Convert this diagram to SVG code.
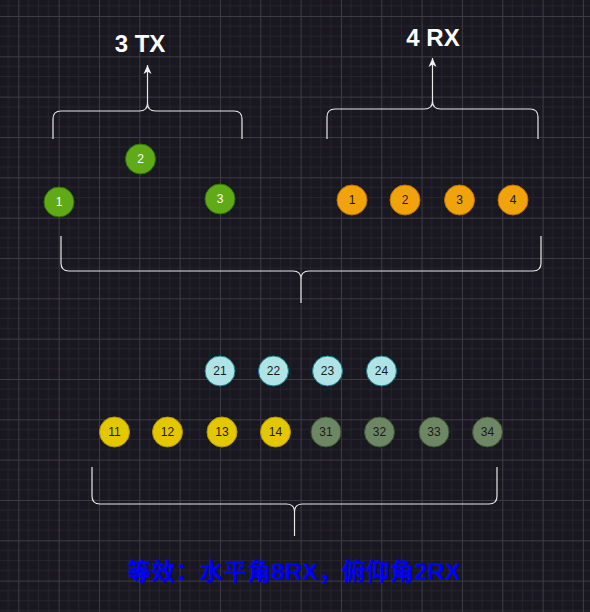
<svg xmlns="http://www.w3.org/2000/svg" width="590" height="612" viewBox="0 0 590 612">
<defs>
<pattern id="grid" patternUnits="userSpaceOnUse" x="18.3" y="16" width="40.33" height="40.33">
<path d="M10.08 0V40.33M20.17 0V40.33M30.25 0V40.33M0 10.08H40.33M0 20.17H40.33M0 30.25H40.33" stroke="#26232d" stroke-width="1" fill="none"/>
<path d="M0.5 0V40.33M0 0.5H40.33" stroke="#3e3b45" stroke-width="1" fill="none"/>
</pattern>
<marker id="arr" markerWidth="10" markerHeight="10" refX="9" refY="5" orient="auto" markerUnits="userSpaceOnUse">
<path d="M0 1 L9 5 L0 9 L2.5 5 Z" fill="#f0f0f0"/>
</marker>
<style>
.tx{fill:#60a917;stroke:#2d7600;stroke-width:1}
.rx{fill:#f0a30a;stroke:#bd7000;stroke-width:1}
.lb{fill:#b0e3e6;stroke:#0e8088;stroke-width:1}
.yl{fill:#e3c800;stroke:#b09500;stroke-width:1}
.ol{fill:#6d8764;stroke:#3a5431;stroke-width:1}
.n{font-family:"Liberation Sans",Arial,sans-serif;font-size:12px;text-anchor:middle;dominant-baseline:central}
.w{fill:#ffffff}
.k{fill:#1a1a1a}
.br{fill:none;stroke:#e8e8e8;stroke-width:1.2}
.title{font-family:"Liberation Sans",Arial,sans-serif;font-size:24px;font-weight:bold;fill:#ffffff;text-anchor:middle}
</style>
</defs>
<rect width="590" height="612" fill="#19171f"/>
<rect width="590" height="612" fill="url(#grid)"/>

<g id="connectors">
<path class="br" d="M53 139V119Q53 111 61 111H139.5Q147.5 111 147.5 103M242 139V119Q242 111 234 111H155.5Q147.5 111 147.5 103V88"/>
<line class="br" x1="147.5" y1="88" x2="147.5" y2="65" marker-end="url(#arr)"/>
<path class="br" d="M327 139V117Q327 109 335 109H424.5Q432.5 109 432.5 101M538 139V117Q538 109 530 109H440.5Q432.5 109 432.5 101V86"/>
<line class="br" x1="432.5" y1="86" x2="432.5" y2="58" marker-end="url(#arr)"/>
<path class="br" d="M61 236V263Q61 271 69 271H293Q301 271 301 279M541 236V263Q541 271 533 271H309Q301 271 301 279V303"/>
<path class="br" d="M92 467V496Q92 504 100 504H286.5Q294.5 504 294.5 512M497 467V496Q497 504 489 504H302.5Q294.5 504 294.5 512V536"/>
</g>

<g id="label-3tx"><text class="title" x="140" y="52">3 TX</text></g>
<g id="label-4rx"><text class="title" x="433" y="45.5">4 RX</text></g>

<g id="tx1"><circle class="tx" cx="59" cy="202" r="15"/><text class="n w" x="59" y="202">1</text></g>
<g id="tx2"><circle class="tx" cx="140.5" cy="159" r="15"/><text class="n w" x="140.5" y="159">2</text></g>
<g id="tx3"><circle class="tx" cx="220" cy="199" r="15"/><text class="n w" x="220" y="199">3</text></g>

<g id="rx1"><circle class="rx" cx="352" cy="200" r="15"/><text class="n k" x="352" y="200">1</text></g>
<g id="rx2"><circle class="rx" cx="405" cy="200" r="15"/><text class="n k" x="405" y="200">2</text></g>
<g id="rx3"><circle class="rx" cx="459.5" cy="200" r="15"/><text class="n k" x="459.5" y="200">3</text></g>
<g id="rx4"><circle class="rx" cx="513" cy="200" r="15"/><text class="n k" x="513" y="200">4</text></g>

<g id="v21"><circle class="lb" cx="220" cy="371" r="15"/><text class="n k" x="220" y="371">21</text></g>
<g id="v22"><circle class="lb" cx="273.5" cy="371" r="15"/><text class="n k" x="273.5" y="371">22</text></g>
<g id="v23"><circle class="lb" cx="327.5" cy="371" r="15"/><text class="n k" x="327.5" y="371">23</text></g>
<g id="v24"><circle class="lb" cx="381.5" cy="371" r="15"/><text class="n k" x="381.5" y="371">24</text></g>

<g id="v11"><circle class="yl" cx="114.5" cy="432" r="15"/><text class="n k" x="114.5" y="432">11</text></g>
<g id="v12"><circle class="yl" cx="167.5" cy="432" r="15"/><text class="n k" x="167.5" y="432">12</text></g>
<g id="v13"><circle class="yl" cx="222" cy="432" r="15"/><text class="n k" x="222" y="432">13</text></g>
<g id="v14"><circle class="yl" cx="275.5" cy="432" r="15"/><text class="n k" x="275.5" y="432">14</text></g>
<g id="v31"><circle class="ol" cx="326" cy="432" r="15"/><text class="n k" x="326" y="432">31</text></g>
<g id="v32"><circle class="ol" cx="379.5" cy="432" r="15"/><text class="n k" x="379.5" y="432">32</text></g>
<g id="v33"><circle class="ol" cx="434" cy="432" r="15"/><text class="n k" x="434" y="432">33</text></g>
<g id="v34"><circle class="ol" cx="487.5" cy="432" r="15"/><text class="n k" x="487.5" y="432">34</text></g>

<g id="summary"><text x="294" y="580" font-family="'Liberation Sans','Noto Sans CJK SC',sans-serif" font-size="24" font-weight="bold" fill="#0000ff" text-anchor="middle">等效：水平角8RX，俯仰角2RX</text></g>
</svg>
